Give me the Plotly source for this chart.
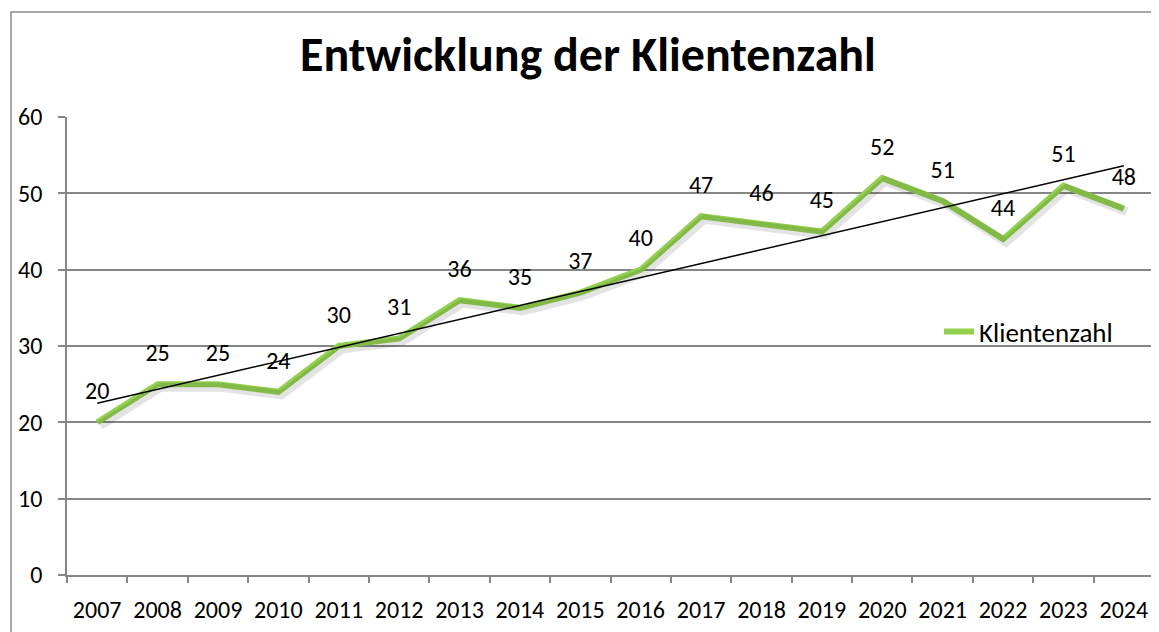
import numpy as np
import plotly.graph_objects as go

years = [str(y) for y in range(2007, 2025)]
values = [20, 25, 25, 24, 30, 31, 36, 35, 37, 40, 47, 46, 45, 52, 49, 44, 51, 48]
labels = ["20", "25", "25", "24", "30", "31", "36", "35", "37", "40", "47", "46", "45", "52", "51", "44", "51", "48"]
series_name = "Klientenzahl"
title_text = "Entwicklung der Klientenzahl"
y_ticks = [0, 10, 20, 30, 40, 50, 60]

FONT = "Carlito, Calibri, Lato, sans-serif"
GREEN = "#92D050"
GRID = "#868686"
TXT = 24

# figure is drawn 8px in from the page corner (body margin), so sizes are reduced by 8
W, H = 1151, 624
L, R, T, B = 59, 5, 109, 57
PW, PH = W - L - R, H - T - B

idx = np.arange(len(values))
slope, intercept = np.polyfit(idx, values, 1)
trend = list(slope * idx + intercept)

fig = go.Figure()

# soft shadow of the series line (drawn on slightly offset axes)
fig.add_trace(go.Scatter(
    x=years, y=values, mode="lines", xaxis="x2", yaxis="y2",
    line=dict(color="rgba(0,0,0,0.11)", width=9), hoverinfo="skip", showlegend=False))

fig.add_trace(go.Scatter(
    x=years, y=values, mode="lines", name=series_name,
    line=dict(color=GREEN, width=6)))

fig.add_trace(go.Scatter(
    x=years, y=trend, mode="lines", showlegend=False,
    line=dict(color="black", width=1.5)))

# data labels above each point
fig.add_trace(go.Scatter(
    x=years, y=values, mode="markers+text", text=labels, textposition="top center",
    marker=dict(size=26, color="rgba(0,0,0,0)"), showlegend=False, hoverinfo="skip",
    textfont=dict(family=FONT, size=TXT, color="black")))

fig.update_layout(
    width=W, height=H,
    margin=dict(l=L, r=R, t=T, b=B, autoexpand=False),
    paper_bgcolor="white", plot_bgcolor="white",
    font=dict(family=FONT, size=TXT, color="black"),
    title=dict(text="<b>" + title_text + "</b>", x=580 / W, xanchor="center",
               y=1 - 46 / H, yanchor="middle", yref="container",
               font=dict(family=FONT, size=48, color="black")),
    xaxis=dict(type="category", range=[-0.5, len(years) - 0.5], automargin=False,
               showgrid=False, showline=True, linecolor=GRID, linewidth=1.5,
               ticks="outside", tickson="boundaries", ticklen=6, tickcolor=GRID,
               tickwidth=1.5, ticklabelstandoff=12, tickangle=0,
               tickfont=dict(family=FONT, size=TXT, color="black"),
               zeroline=False),
    yaxis=dict(range=[0, 60], tickvals=y_ticks, showgrid=True, gridcolor=GRID,
               gridwidth=1.5, showline=True, linecolor=GRID, linewidth=1.5,
               ticks="outside", ticklen=7, tickcolor=GRID, tickwidth=1.5,
               ticklabelstandoff=11, zeroline=False, automargin=False,
               tickfont=dict(family=FONT, size=TXT, color="black")),
    xaxis2=dict(type="category", overlaying="x", range=[-0.55, len(years) - 0.55],
                visible=False),
    yaxis2=dict(overlaying="y", range=[0.4, 60.4], visible=False),
    legend=dict(x=872 / PW, y=(575 - 332) / PH, xanchor="left", yanchor="middle",
                bgcolor="rgba(0,0,0,0)", font=dict(family=FONT, size=27, color="black")),
    showlegend=True,
)

# chart-area border
fig.add_shape(type="rect", xref="paper", yref="paper",
              x0=(3 - L) / PW, x1=1.2, y0=-0.3, y1=(H - B - 4) / PH,
              line=dict(color="#8c8c8c", width=1.5), fillcolor="rgba(0,0,0,0)", layer="below")

fig.write_html("out.html")
